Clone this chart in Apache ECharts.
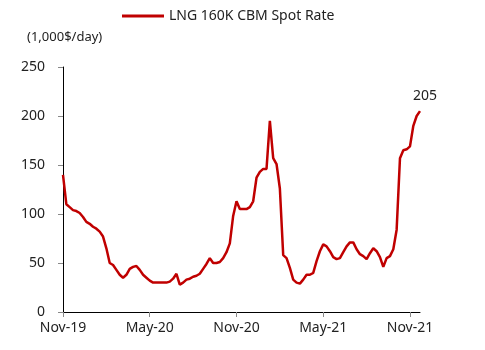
<!DOCTYPE html>
<html>
<head>
<meta charset="utf-8">
<script src="https://cdn.jsdelivr.net/npm/echarts@6/dist/echarts.min.js"></script>
<style>
    html, body { margin: 0; padding: 0; background: #fff; }
    #chart { width: 485px; height: 350px; }
</style>
</head>
<body>
<div id="chart"></div>
<script>
// weekly spot rate, Nov-19 .. Nov-21 (1,000$/day)
var seriesName = 'LNG 160K CBM Spot Rate';
var unitLabel = '(1,000$/day)';
var tickLabels = ['Nov-19', 'May-20', 'Nov-20', 'May-21', 'Nov-21'];
var weeksPerTick = 26;
var rates = [
    140, 110, 107, 104, 103, 101, 97, 92, 90, 87,
    85, 82, 77, 65, 50, 48, 43, 38, 35, 38,
    44, 46, 47, 43, 38, 35, 32, 30, 30, 30,
    30, 30, 31, 34, 39, 28, 30, 33, 34, 36,
    37, 39, 44, 49, 55, 50, 50, 51, 55, 61,
    70, 98, 113, 105, 105, 105, 107, 113, 137, 143,
    146, 146, 195, 157, 151, 126, 58, 55, 45, 33,
    30, 29, 33, 38, 38, 40, 52, 62, 69, 67,
    62, 56, 54, 55, 61, 67, 71, 71, 64, 59,
    57, 54, 60, 65, 62, 56, 46, 55, 57, 64,
    84, 157, 165, 166, 169, 190, 200, 205
];

var chart = echarts.init(document.getElementById('chart'));

var points = rates.map(function (v, i) { return [i, v]; });
var lastIdx = rates.length - 1;

var tickValues = tickLabels.map(function (t, i) { return i * weeksPerTick; });

var option = {
    animation: false,
    textStyle: { fontFamily: 'Noto Sans' },
    legend: {
        left: 117,
        top: 4,
        icon: 'rect',
        itemWidth: 42,
        itemHeight: 3,
        textStyle: { color: '#222', fontSize: 14 },
        data: [seriesName]
    },
    title: {
        text: unitLabel,
        left: 22,
        top: 26,
        textStyle: { color: '#222', fontSize: 13, fontWeight: 'normal' }
    },
    grid: {
        left: 63,
        right: 65,
        top: 67,
        bottom: 38
    },
    xAxis: {
        type: 'value',
        min: 0,
        max: 107,
        splitLine: { show: false },
        axisLine: { show: true, lineStyle: { color: '#000', width: 1 } },
        axisTick: {
            show: true,
            length: 5,
            customValues: tickValues,
            lineStyle: { color: '#888' }
        },
        axisLabel: {
            customValues: tickValues,
            color: '#222',
            fontSize: 14,
            margin: 9,
            formatter: function (v) {
                return tickLabels[Math.round(v / weeksPerTick)] || '';
            }
        }
    },
    yAxis: {
        type: 'value',
        min: 0,
        max: 250,
        interval: 50,
        splitLine: { show: false },
        axisLine: { show: true, lineStyle: { color: '#000', width: 1 } },
        axisTick: { show: true, length: 5, lineStyle: { color: '#888' } },
        axisLabel: { color: '#222', fontSize: 14, margin: 18 }
    },
    series: [{
        name: seriesName,
        type: 'line',
        data: points,
        showSymbol: false,
        lineStyle: { color: '#c00000', width: 2.5 },
        itemStyle: { color: '#c00000' },
        markPoint: {
            symbol: 'circle',
            symbolSize: 0,
            silent: true,
            label: {
                show: true,
                position: 'top',
                distance: 8,
                offset: [5, 0],
                color: '#222',
                fontSize: 14,
                formatter: '{c}'
            },
            data: [{ coord: [lastIdx, rates[lastIdx]], value: rates[lastIdx] }]
        }
    }]
};

chart.setOption(option);
</script>
</body>
</html>
